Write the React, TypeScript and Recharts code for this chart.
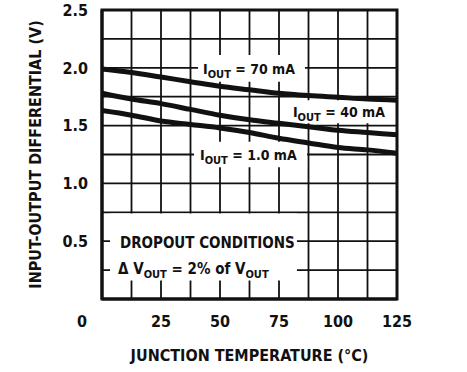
import {
  LineChart,
  Line,
  XAxis,
  YAxis,
  CartesianGrid,
  ReferenceArea,
  ReferenceDot,
} from "recharts";

const FONT = "'Liberation Sans Narrow', 'DejaVu Sans Condensed', 'Arial Narrow', sans-serif";
const INK = "#111";

// junction temperature (°C) and dropout voltage (V) per load current
const temps = [0, 12.5, 25, 37.5, 50, 62.5, 75, 87.5, 100, 112.5, 125];
const iout70 = [1.99, 1.96, 1.92, 1.88, 1.84, 1.81, 1.78, 1.76, 1.745, 1.73, 1.72];
const iout40 = [1.78, 1.73, 1.69, 1.64, 1.59, 1.55, 1.52, 1.49, 1.46, 1.44, 1.42];
const iout1 = [1.63, 1.59, 1.54, 1.51, 1.48, 1.44, 1.39, 1.35, 1.31, 1.29, 1.26];

const xTicks = [0, 12.5, 25, 37.5, 50, 62.5, 75, 87.5, 100, 112.5, 125];
const yTicks = [0, 0.25, 0.5, 0.75, 1.0, 1.25, 1.5, 1.75, 2.0, 2.25, 2.5];
const xMax = 125;

const curveNotes = [
  { x: 42.8, y: 1.99, current: "70 mA" },
  { x: 80.9, y: 1.62, current: "40 mA" },
  { x: 41.5, y: 1.25, current: "1.0 mA" },
];

// white boxes that knock out the grid behind the annotations
const noteBoxes = [
  { x1: 40.7, x2: 86.0, y1: 1.88, y2: 2.11 },
  { x1: 78.4, x2: 122.9, y1: 1.52, y2: 1.72 },
  { x1: 39.0, x2: 86.9, y1: 1.14, y2: 1.36 },
  { x1: 3.4, x2: 82.6, y1: 0.16, y2: 0.74 },
];

const data = temps.map((t, i) => ({
  t,
  a70: iout70[i],
  a40: iout40[i],
  a1: iout1[i],
}));

// vertical grid lines at every 12.5 °C (the axis only labels every 25)
const verticalLines = ({ xAxis, offset }: any) => {
  const s = xAxis && xAxis.scale;
  if (typeof s === "function") return xTicks.map((v) => s(v));
  return xTicks.map((v) => offset.left + (v / xMax) * offset.width);
};

const XTick = ({ x, y, payload }: any) => {
  const v = payload.value;
  if (v % 25 !== 0) return null;
  return (
    <text
      x={v === 0 ? x - 20 : x}
      y={y}
      dy="0.71em"
      textAnchor="middle"
      fontFamily={FONT}
      fontWeight="bold"
      fontSize={16}
      fill={INK}
    >
      {v}
    </text>
  );
};

const YTick = ({ x, y, payload }: any) => {
  const v = payload.value;
  if (v === 0 || v % 0.5 !== 0) return null;
  return (
    <text
      x={x}
      y={y}
      dy="0.36em"
      textAnchor="end"
      fontFamily={FONT}
      fontWeight="bold"
      fontSize={16}
      fill={INK}
    >
      {v.toFixed(1)}
    </text>
  );
};

const CurveNote = (current: string) => (p: any) => (
  <text
    x={p.cx}
    y={p.cy + 5}
    fontFamily={FONT}
    fontWeight="bold"
    fontSize={14}
    fill={INK}
  >
    I
    <tspan fontSize={11} dy={4}>
      OUT
    </tspan>
    <tspan dy={-4}>{" = " + current}</tspan>
  </text>
);

const DropoutTitle = (p: any) => (
  <text
    x={p.cx}
    y={p.cy + 6}
    fontFamily={FONT}
    fontWeight="bold"
    fontSize={15}
    fill={INK}
  >
    DROPOUT CONDITIONS
  </text>
);

const DropoutRule = (p: any) => (
  <text
    x={p.cx}
    y={p.cy + 5}
    fontFamily={FONT}
    fontWeight="bold"
    fontSize={15}
    fill={INK}
  >
    {"\u0394 V"}
    <tspan fontSize={11} dy={4}>
      OUT
    </tspan>
    <tspan dy={-4}>{" = 2% of V"}</tspan>
    <tspan fontSize={11} dy={4}>
      OUT
    </tspan>
  </text>
);

const YTitle = ({ viewBox }: any) => {
  const cx = viewBox.x + 35;
  const cy = viewBox.y + viewBox.height / 2;
  return (
    <text
      x={cx}
      y={cy}
      transform={`rotate(-90, ${cx}, ${cy})`}
      textAnchor="middle"
      dominantBaseline="central"
      fontFamily={FONT}
      fontWeight="bold"
      fontSize={16}
      fill={INK}
    >
      INPUT-OUTPUT DIFFERENTIAL (V)
    </text>
  );
};

export default function App() {
  return (
    <div style={{ position: "fixed", left: 0, top: 0, background: "#fff" }}>
      <LineChart
        width={467}
        height={372}
        data={data}
        margin={{ top: 10, right: 70, bottom: 0, left: 0 }}
      >
        <CartesianGrid
          stroke={INK}
          strokeWidth={1.8}
          verticalCoordinatesGenerator={verticalLines}
        />
        <XAxis
          dataKey="t"
          type="number"
          domain={[0, xMax]}
          ticks={xTicks}
          height={73}
          tickSize={0}
          tickMargin={17}
          tick={<XTick />}
          axisLine={{ stroke: INK, strokeWidth: 3 }}
          label={{
            value: "JUNCTION TEMPERATURE (\u00B0C)",
            position: "insideBottom",
            offset: 11,
            fontFamily: FONT,
            fontWeight: "bold",
            fontSize: 16,
            fill: INK,
          }}
        />
        <YAxis
          type="number"
          domain={[0, 2.5]}
          ticks={yTicks}
          width={102}
          tickSize={0}
          tickMargin={14}
          tick={<YTick />}
          axisLine={{ stroke: INK, strokeWidth: 3 }}
          label={{ content: <YTitle /> }}
        />
        <ReferenceArea
          x1={0}
          x2={xMax}
          y1={0}
          y2={2.5}
          fill="none"
          stroke={INK}
          strokeWidth={3}
          ifOverflow="visible"
        />
        {noteBoxes.map((b, i) => (
          <ReferenceArea key={i} {...b} fill="#fff" fillOpacity={1} stroke="none" />
        ))}
        <Line dataKey="a70" type="monotone" stroke={INK} strokeWidth={5} dot={false} isAnimationActive={false} />
        <Line dataKey="a40" type="monotone" stroke={INK} strokeWidth={5} dot={false} isAnimationActive={false} />
        <Line dataKey="a1" type="monotone" stroke={INK} strokeWidth={5} dot={false} isAnimationActive={false} />
        {curveNotes.map((n) => (
          <ReferenceDot key={n.current} x={n.x} y={n.y} r={0} shape={CurveNote(n.current)} />
        ))}
        <ReferenceDot x={7.6} y={0.49} r={0} shape={DropoutTitle} />
        <ReferenceDot x={6.8} y={0.26} r={0} shape={DropoutRule} />
      </LineChart>
    </div>
  );
}
